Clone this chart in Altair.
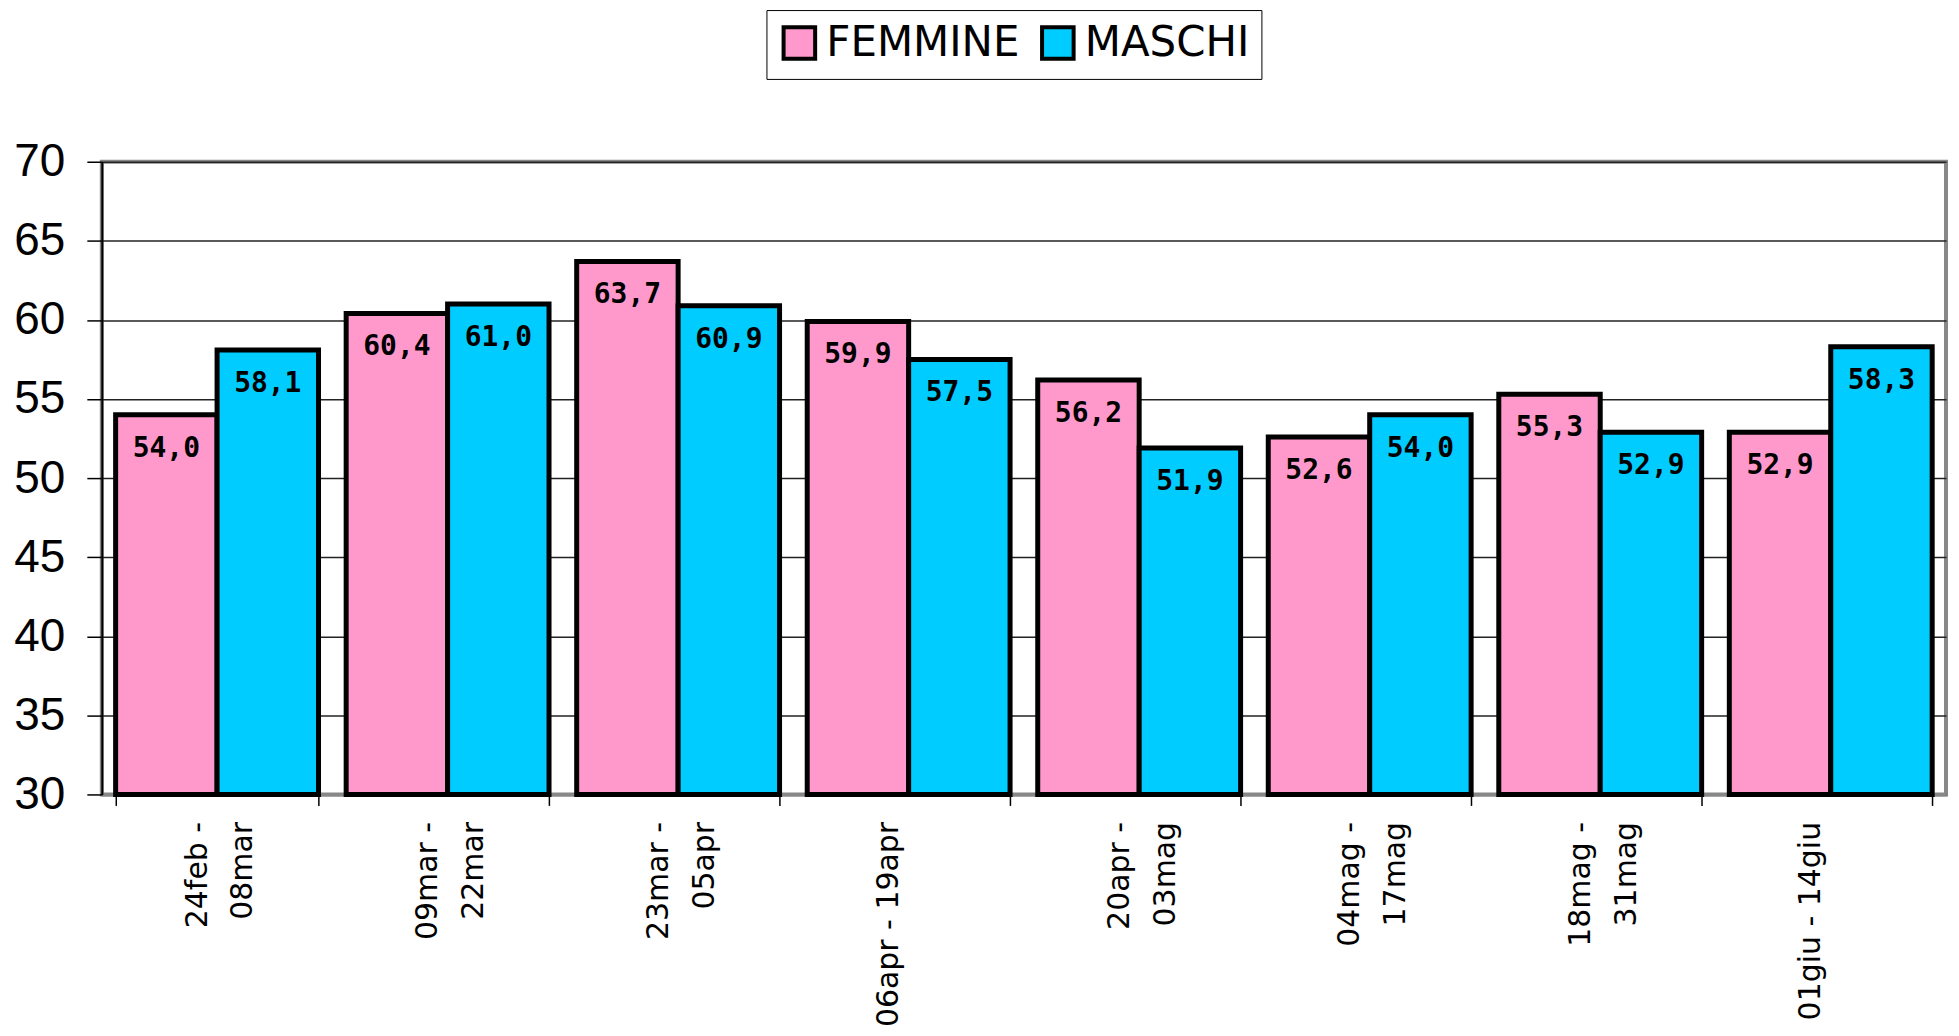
import altair as alt
import pandas as pd

periods = ["24feb -|08mar", "09mar -|22mar", "23mar -|05apr", "06apr - 19apr",
           "20apr -|03mag", "04mag -|17mag", "18mag -|31mag", "01giu - 14giu"]
femmine = [54.0, 60.4, 63.7, 59.9, 56.2, 52.6, 55.3, 52.9]
maschi = [58.1, 61.0, 60.9, 57.5, 51.9, 54.0, 52.9, 58.3]
series = ["FEMMINE", "MASCHI"]
colors = ["#FF99CC", "#00CCFF"]
base_value = 30

rows = []
for p, f, m in zip(periods, femmine, maschi):
    rows.append({"periodo": p, "sesso": "FEMMINE", "valore": f})
    rows.append({"periodo": p, "sesso": "MASCHI", "valore": m})
df = pd.DataFrame(rows)

x = alt.X("periodo:N", sort=periods,
          scale=alt.Scale(paddingInner=0.12, paddingOuter=0.06),
          axis=alt.Axis(title=None, labelAngle=270, labelAlign="right", labelBaseline="middle",
                        labelExpr="split(datum.label, '|')", labelFont="DejaVu Sans",
                        labelFontSize=30, labelLineHeight=46, labelColor="black",
                        labelOffset=-20,
                        labelPadding=16, tickSize=11, tickColor="black", tickWidth=1.5,
                        tickBand="extent", domainColor="#888888", domainWidth=3, grid=False,
                        labelLimit=400))
xo = alt.XOffset("sesso:N", sort=series, scale=alt.Scale(paddingInner=0, paddingOuter=0))
y = alt.Y("valore:Q", scale=alt.Scale(domain=[30, 70], nice=False, zero=False),
          axis=alt.Axis(title=None, values=[30, 35, 40, 45, 50, 55, 60, 65, 70],
                        labelFont="Liberation Sans", labelFontSize=46, labelColor="black",
                        labelPadding=22, tickSize=15, tickColor="black", tickWidth=1.5,
                        domainColor="black", domainWidth=2,
                        grid=True, gridColor="#222222", gridWidth=1.5))

bars = alt.Chart(df).mark_bar(stroke="black", strokeWidth=5).encode(
    x=x, xOffset=xo, y=y, y2=alt.datum(base_value),
    color=alt.Color("sesso:N", sort=series,
                    scale=alt.Scale(domain=series, range=colors),
                    legend=alt.Legend(title=None, orient="none", legendX=666, legendY=-152,
                                      direction="horizontal", strokeColor="black",
                                      padding=12, symbolType="square", symbolSize=1000,
                                      symbolStrokeColor="black", symbolStrokeWidth=4,
                                      symbolOpacity=1, labelFont="DejaVu Sans",
                                      labelFontSize=42, labelColor="black", labelOffset=6,
                                      labelLimit=400, columnPadding=14, fillColor="white")),
)

labels = alt.Chart(df).transform_calculate(
    txt="replace(format(datum.valore, '.1f'), '.', ',')"
).mark_text(font="DejaVu Sans Mono", fontWeight="bold", fontSize=28, dy=34,
            baseline="middle", align="center", color="black").encode(
    x=alt.X("periodo:N", sort=periods), xOffset=alt.XOffset("sesso:N", sort=series),
    y=alt.Y("valore:Q"), text="txt:N")

chart = alt.layer(bars, labels).properties(
    width=1848, height=634,
    padding={"left": 5, "top": 0, "right": 5, "bottom": 5},
).configure_view(stroke="#888888", strokeWidth=4)

chart.save("out.html", embed_options={"renderer": "svg", "actions": False})
